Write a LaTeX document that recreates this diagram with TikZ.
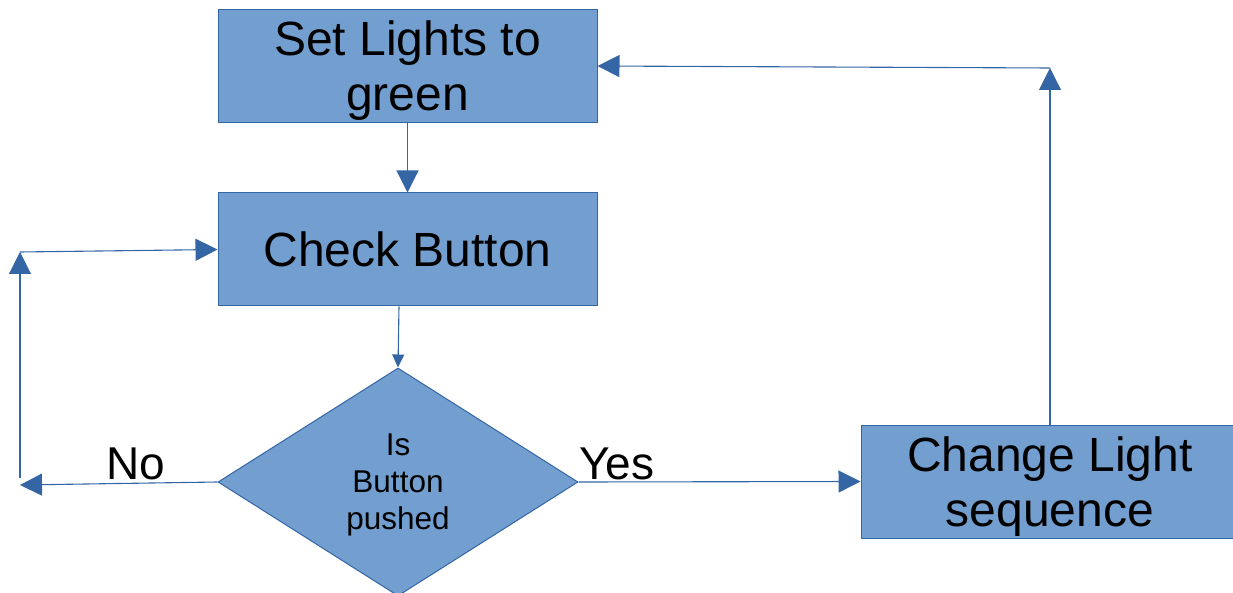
\documentclass[tikz,border=0pt]{standalone}
\usepackage{fontspec}
\setmainfont{Liberation Sans}
\usetikzlibrary{arrows.meta,shapes.geometric}
\definecolor{boxfill}{HTML}{729FCF}
\definecolor{boxline}{HTML}{3465A4}
\tikzset{
  procbox/.style={draw=boxline, fill=boxfill, line width=1pt, rectangle, inner sep=0pt,
    minimum width=379pt, minimum height=113pt, align=center,
    font=\fontsize{48}{55}\selectfont},
  twoline/.style={text depth=0pt},
  decbox/.style={draw=boxline, fill=boxfill, line width=1pt, diamond, inner sep=0pt,
    shape aspect=1.58, minimum width=360pt, minimum height=228pt, align=center,
    text depth=0pt, font=\fontsize{31.5}{37}\selectfont},
  conn/.style={draw=boxline, line width=1.1pt, -{Triangle[length=22pt,width=22pt]}},
  smallconn/.style={draw=boxline, line width=1.1pt, -{Triangle[length=13pt,width=12pt]}},
  lbl/.style={font=\fontsize{46}{52}\selectfont, inner sep=0pt}
}
\begin{document}
\begin{tikzpicture}[x=1pt,y=-1pt]
\useasboundingbox (0,0) rectangle (1233,593);
\clip (0,0) rectangle (1233,593);
\node[procbox, twoline] (set) at (407.5,66) {Set Lights to\\green};
\node[procbox] (check) at (407.5,249.5) {Check Button};
\node[decbox] (dec) at (398,482) {Is\\Button\\pushed};
\node[procbox, twoline, minimum width=378pt] (change) at (1050,481.5) {Change Light\\sequence};
\node[lbl] (no) at (136,464) {No};
\node[lbl] (yes) at (617,464) {Yes};
\coordinate (nl) at (20,485);
\coordinate (nlb) at (20,478);
\coordinate (nt) at (20,252);
\coordinate (tr) at (1050,68);
\draw[conn] (set.south) -- (check.north);
\draw[smallconn] ([xshift=-8.5pt]check.south) -- (dec.north);
\draw[conn] (dec.west) -- (nl);
\draw[conn] (nlb) -- (nt);
\draw[conn] (nt) -- (check.west);
\draw[conn] (dec.east) -- (change.west);
\draw[conn] (change.north) -- (tr);
\draw[conn] (tr) -- (set.east);
\end{tikzpicture}
\end{document}
